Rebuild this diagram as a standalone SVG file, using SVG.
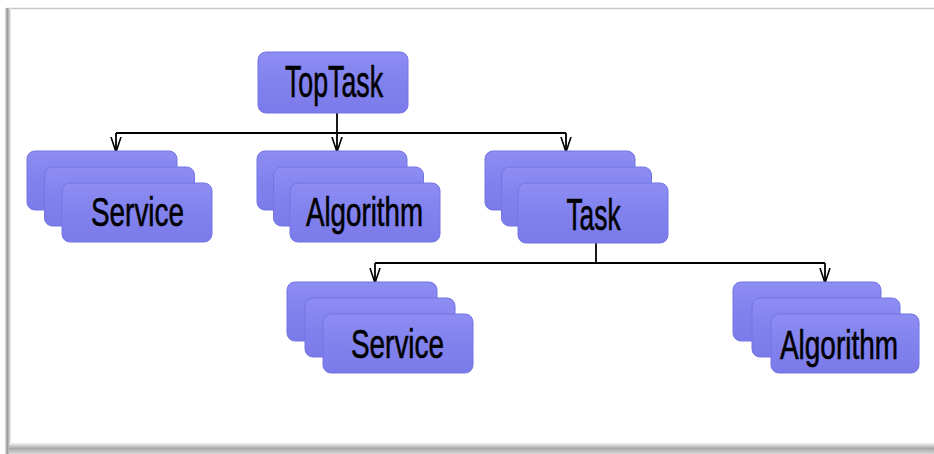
<svg xmlns="http://www.w3.org/2000/svg" width="934" height="454" viewBox="0 0 934 454">
  <defs>
    <linearGradient id="boxg" x1="0" y1="0" x2="0" y2="1">
      <stop offset="0" stop-color="#8d8df3"/>
      <stop offset="0.5" stop-color="#8282ee"/>
      <stop offset="1" stop-color="#7a7aea"/>
    </linearGradient>
    <linearGradient id="leftbar" x1="0" y1="0" x2="1" y2="0">
      <stop offset="0" stop-color="#e4e4e4"/>
      <stop offset="0.4" stop-color="#9a9a9a"/>
      <stop offset="1" stop-color="#f4f4f4"/>
    </linearGradient>
    <linearGradient id="botbar" x1="0" y1="0" x2="0" y2="1">
      <stop offset="0" stop-color="#f4f4f4"/>
      <stop offset="0.5" stop-color="#a8a8a8"/>
      <stop offset="1" stop-color="#d8d8d8"/>
    </linearGradient>
    <marker id="arr" viewBox="0 0 16 12" refX="15" refY="6" markerWidth="16" markerHeight="12" markerUnits="userSpaceOnUse" orient="auto">
      <path d="M0,1 L15,6 L0,11" fill="none" stroke="#000" stroke-width="1.6"/>
    </marker>
  </defs>
  <style>
    .box { fill: url(#boxg); stroke: #7474e4; stroke-width: 1; }
    .lbl { font-family: "Liberation Sans", Arial, sans-serif; fill: #000; stroke: #000; stroke-width: 0.6; text-anchor: middle; }
    .con { fill: none; stroke: #000; stroke-width: 1.8; }
  </style>

  <!-- frame -->
  <rect x="0" y="0" width="934" height="454" fill="#fff"/>
  <line x1="6" y1="8.5" x2="934" y2="8.5" stroke="#c8c8c8" stroke-width="1.5"/>
  <rect x="5" y="8" width="6" height="446" fill="url(#leftbar)"/>
  <rect x="9" y="443" width="925" height="11" fill="url(#botbar)"/>

  <g id="connectors">
    <path class="con" d="M337,113 V152" marker-end="url(#arr)"/>
    <path class="con" d="M116,133 H566"/>
    <path class="con" d="M116,133 V152" marker-end="url(#arr)"/>
    <path class="con" d="M566,133 V152" marker-end="url(#arr)"/>
    <path class="con" d="M596,243 V263"/>
    <path class="con" d="M375,263 H825"/>
    <path class="con" d="M375,263 V283" marker-end="url(#arr)"/>
    <path class="con" d="M825,263 V283" marker-end="url(#arr)"/>
  </g>

  <g id="toptask">
    <rect class="box" x="258" y="52" width="150" height="61" rx="8"/>
    <text class="lbl" font-size="44" transform="translate(334,97) scale(0.608,1)">TopTask</text>
  </g>

  <g id="service1">
    <rect class="box" x="27" y="151" width="150" height="59" rx="8"/>
    <rect class="box" x="44.5" y="167" width="150" height="59" rx="8"/>
    <rect class="box" x="62" y="183" width="150" height="59" rx="8"/>
    <text class="lbl" font-size="40" transform="translate(137.5,226) scale(0.697,1)">Service</text>
  </g>

  <g id="algorithm1">
    <rect class="box" x="257" y="151" width="150" height="59" rx="8"/>
    <rect class="box" x="273.5" y="167" width="150" height="59" rx="8"/>
    <rect class="box" x="290" y="183" width="150" height="59" rx="8"/>
    <text class="lbl" font-size="40" transform="translate(364.5,226) scale(0.693,1)">Algorithm</text>
  </g>

  <g id="task">
    <rect class="box" x="485" y="151" width="150" height="59" rx="8"/>
    <rect class="box" x="501.5" y="167" width="150" height="59" rx="8"/>
    <rect class="box" x="518" y="183" width="150" height="60" rx="8"/>
    <text class="lbl" font-size="44" transform="translate(593.5,230) scale(0.598,1)">Task</text>
  </g>

  <g id="service2">
    <rect class="box" x="287" y="282" width="150" height="59" rx="8"/>
    <rect class="box" x="305" y="298" width="150" height="59" rx="8"/>
    <rect class="box" x="323" y="314" width="150" height="59" rx="8"/>
    <text class="lbl" font-size="40" transform="translate(397.5,358) scale(0.697,1)">Service</text>
  </g>

  <g id="algorithm2">
    <rect class="box" x="733" y="282" width="148" height="59" rx="8"/>
    <rect class="box" x="752" y="298" width="148" height="59" rx="8"/>
    <rect class="box" x="771" y="314" width="148" height="59" rx="8"/>
    <text class="lbl" font-size="40" transform="translate(839,359) scale(0.70,1)">Algorithm</text>
  </g>
</svg>
